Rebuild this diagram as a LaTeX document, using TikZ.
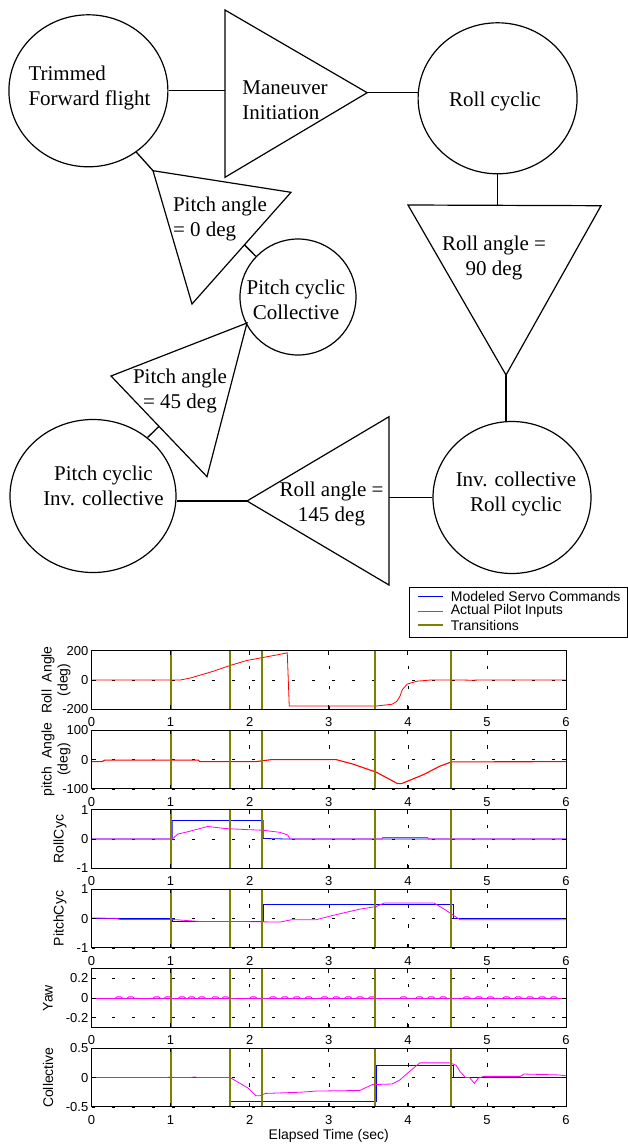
\documentclass[tikz,border=0pt]{standalone}
\usepackage{fontspec}
\setmainfont{Liberation Serif}
\newfontfamily\plotfont{Liberation Sans}
\usetikzlibrary{shapes.geometric,calc}
\definecolor{servo}{RGB}{0,0,255}
\definecolor{pilot}{RGB}{255,0,255}
\definecolor{resp}{RGB}{255,0,0}
\definecolor{trancol}{RGB}{128,128,0}
\tikzset{
  state/.style={draw, ellipse, line width=1.2pt, inner sep=0pt},
  txt/.style={font=\fontsize{21}{25}\selectfont, inner sep=0pt},
  tri/.style={draw, line width=1.2pt, line join=miter},
  link/.style={line width=1.3pt},
  panel/.style 2 args={shift={(91.5,#1+29.35)}, x=79.1pt, y={29.35pt/#2}},
  gridline/.style={dash pattern=on 3.5pt off 16.5pt, line width=0.6pt},
  trans/.style={draw=trancol, line width=2pt},
  frame/.style={line width=1pt},
  tick/.style={font=\plotfont\fontsize{13}{15}\selectfont, inner sep=0pt},
  axlabel/.style={font=\plotfont\fontsize{14}{16}\selectfont, inner sep=0pt},
  curve/.style={line width=0.8pt}
}
\begin{document}
\begin{tikzpicture}[x=1pt,y=-1pt]
\useasboundingbox (0,0) rectangle (628,1144);

\node[state, minimum width=159pt, minimum height=152pt] (trim) at (88.4,90.8) {};
\node[txt, align=left] (trimtxt) at (89.5,87.7) {Trimmed\\Forward flight};
\node[state, minimum width=159pt, minimum height=151pt] (roll) at (497.6,98.3) {};
\node[txt] (rolltxt) at (495,101.3) {Roll cyclic};
\node[state, minimum width=158pt, minimum height=152pt] (invc) at (512,497.5) {};
\node[txt, align=center] (invctxt) at (516,494.3) {Inv. collective\\Roll cyclic};
\node[state, minimum width=166pt, minimum height=153pt] (pinv) at (93,496) {};
\node[txt, align=center] (pinvtxt) at (103.5,486) {Pitch cyclic\\Inv. collective};
\node[state, minimum width=116pt, minimum height=116pt] (pcol) at (298,297) {};
\node[txt, align=center] (pcoltxt) at (296,299.7) {Pitch cyclic\\Collective};

\coordinate (b1) at (225,10);
\coordinate (b2) at (225,177.3);
\coordinate (b3) at (367.2,92.7);
\draw[tri] (b1) -- (b2) -- (b3) -- cycle;
\node[txt, align=left] (mantxt) at (285,100.2) {Maneuver\\Initiation};

\coordinate (d1) at (408,205);
\coordinate (d2) at (601,205.7);
\coordinate (d3) at (506,375);
\draw[tri] (d1) -- (d2) -- (d3) -- cycle;
\node[txt, align=center] (dtxt) at (494,257.6) {Roll angle =\\90 deg};

\coordinate (f1) at (389,416.7);
\coordinate (f2) at (389,585);
\coordinate (f3) at (247,501);
\draw[tri] (f1) -- (f2) -- (f3) -- cycle;
\node[txt, align=center] (ftxt) at (331.5,504) {Roll angle =\\145 deg};

\coordinate (h1) at (111,376);
\coordinate (h2) at (247,323);
\coordinate (h3) at (207,476.7);
\draw[tri] (h1) -- (h2) -- (h3) -- cycle;
\node[txt, align=center] (htxt) at (180,391.3) {Pitch angle\\= 45 deg};

\coordinate (j1) at (153,170.7);
\coordinate (j2) at (291,192.3);
\coordinate (j3) at (192,304);
\draw[tri] (j1) -- (j2) -- (j3) -- cycle;
\node[txt, align=left] (jtxt) at (220,219) {Pitch angle\\= 0 deg};

\coordinate (h13) at ($(h1)!0.5!(h3)$);
\coordinate (j23) at ($(j2)!0.47!(j3)$);
\draw[link] (trim.east) -- (trim.east -| b1);
\draw[link] (b3) -- (b3 -| roll.west);
\draw[link] (roll.south) -- (roll.south |- d1);
\draw[link] (d3) -- (d3 |- invc.north);
\draw[link] (invc.west) -- (invc.west -| f1);
\draw[link] (f3) -- (f3 -| pinv.east);
\draw[link] (pinv.47) -- (h13);
\draw[link] (trim.308) -- (j1);
\draw[link] (j23) -- (pcol.136);

\draw[frame] (409,587) rectangle (627,637);
\draw[servo, curve] (417.7,596) -- (442.7,596);
\draw[pilot, curve] (417.7,611) -- (442.7,611);
\draw[trans] (417.7,625.3) -- (442.7,625.3);
\node[axlabel, anchor=west] (leg1) at (450.7,596) {Modeled Servo Commands};
\node[axlabel, anchor=west] (leg2) at (450.7,611) {Actual Pilot Inputs};
\node[axlabel, anchor=west] (leg3) at (450.7,625.3) {Transitions};

\foreach \ty/\a/\tk in {650.7/200/200, 730.2/100/100, 809.7/1/1, 889.2/1/1, 968.7/0.3/0.2, 1048.2/0.5/0.5}
{
\begin{scope}[panel={\ty}{\a}]
\foreach \x in {1,...,5} \draw[gridline] (\x,-\a) -- (\x,\a);
\foreach \y in {-\tk,0,\tk} \draw[gridline] (0,\y) -- (6,\y);
\end{scope}
}

\begin{scope}[panel={650.7}{200}]
\draw[resp, curve] (0,0) -- (1.12,0) -- (1.25,14) -- (1.54,60) -- (1.75,99) -- (1.96,133) -- (2.15,152) -- (2.38,175) -- (2.475,186) -- (2.5,-177) -- (3.6,-177) -- (3.8,-165) -- (3.86,-145) -- (3.9,-110) -- (3.93,-65) -- (3.99,-28) -- (4.11,-8) -- (4.28,0) -- (4.6,1) -- (4.8,-1) -- (5.0,1) -- (6,0);
\end{scope}

\begin{scope}[panel={730.2}{100}]
\draw[resp, curve, line width=1.1pt] (0,-7) -- (0.13,-7) -- (0.17,-2) -- (1.35,-2) -- (1.37,-7) -- (2.08,-7) -- (2.28,0) -- (3.09,0) -- (3.3,-15) -- (3.6,-43) -- (3.87,-82) -- (3.92,-82) -- (4.2,-51) -- (4.4,-23) -- (4.55,-8) -- (6,-7);
\end{scope}

\begin{scope}[panel={809.7}{1}]
\draw[servo, curve] (0,0) -- (1.02,0) -- (1.02,0.63) -- (2.17,0.63) -- (2.17,0.02) -- (2.5,0) -- (6,0);
\draw[pilot, curve] (0,0) -- (1.02,0) -- (1.09,0.17) -- (1.22,0.25) -- (1.47,0.43) -- (1.68,0.36) -- (1.98,0.32) -- (2.17,0.3) -- (2.38,0.23) -- (2.48,0.14) -- (2.51,0) -- (3.67,0) -- (3.68,0.05) -- (4.25,0.05) -- (4.26,0) -- (6,0);
\end{scope}

\begin{scope}[panel={889.2}{1}]
\draw[servo, curve] (0,0) -- (1.02,0) -- (1.02,-0.08) -- (2.17,-0.08) -- (2.17,0.47) -- (4.58,0.47) -- (4.58,-0.01) -- (6,-0.01);
\draw[pilot, curve] (0,0.02) -- (0.3,0.01) -- (0.36,-0.03) -- (1.02,-0.03) -- (1.37,-0.1) -- (1.88,-0.1) -- (2.38,-0.12) -- (2.53,-0.04) -- (2.84,-0.04) -- (3.04,0.1) -- (3.39,0.32) -- (3.6,0.41) -- (3.7,0.53) -- (4.33,0.53) -- (4.46,0.32) -- (4.56,0.14) -- (4.66,-0.04) -- (6,-0.04);
\end{scope}

\begin{scope}[panel={968.7}{0.3}]
\draw[servo, curve] (0,0) -- (6,0);
\draw[pilot, curve] (0,0) -- (6,0);
\foreach \t in {0.3,0.45,0.78,0.92,1.1,1.22,1.35,1.52,1.65,2.0,2.25,2.4,2.55,2.7,2.9,3.05,3.2,3.35,3.5,3.9,4.1,4.25,4.4,4.7,4.85,5.0,5.2,5.35,5.5,5.65,5.8}
  \draw[pilot, curve] (\t,0) -- (\t+0.02,0.012) -- (\t+0.07,0.012) -- (\t+0.09,0);
\end{scope}

\begin{scope}[panel={1048.2}{0.5}]
\draw[servo, curve] (0,0) -- (1.75,0) -- (1.75,-0.4) -- (3.6,-0.4) -- (3.6,0.2) -- (4.57,0.2) -- (4.57,0) -- (6,0);
\draw[pilot, curve] (0,0) -- (0.95,0) -- (1.0,0.01) -- (1.05,0) -- (1.25,0) -- (1.3,0.01) -- (1.35,0) -- (1.75,0) -- (1.88,-0.1) -- (1.98,-0.18) -- (2.08,-0.31) -- (2.13,-0.31) -- (2.2,-0.27) -- (2.64,-0.25) -- (2.84,-0.23) -- (3.39,-0.22) -- (3.55,-0.12) -- (3.8,-0.11) -- (3.9,-0.04) -- (4.0,0.08) -- (4.15,0.25) -- (4.53,0.25) -- (4.61,0.21) -- (4.66,0.1) -- (4.73,0) -- (4.78,0) -- (4.84,-0.1) -- (4.89,-0.01) -- (4.96,0.02) -- (5.42,0.02) -- (5.47,0.06) -- (5.9,0.045) -- (6,0.03);
\end{scope}

\foreach \ty/\a/\tk/\lo/\hi/\lx/\lab [count=\n] in {650.7/200/200/-200/200/56/{Roll\ \ Angle\\(deg)}, 730.2/100/100/-100/100/56/{pitch\ \ Angle\\(deg)}, 809.7/1/1/-1/1/60/RollCyc, 889.2/1/1/-1/1/60/PitchCyc, 968.7/0.3/0.2/-0.2/0.2/48/Yaw, 1048.2/0.5/0.5/-0.5/0.5/48/Collective}
{
\begin{scope}[panel={\ty}{\a}]
\foreach \t in {1.01,1.75,2.15,3.59,4.55} \draw[trans] (\t,-\a) -- (\t,\a);
\draw[frame] (0,-\a) rectangle (6,\a);
\foreach \x in {0,...,6} {
  \draw[frame] (\x,-\a) -- ++(0pt,4pt) (\x,\a) -- ++(0pt,-4pt);
  \node[tick, anchor=base] (xt\n-\x) at ([yshift=-17.5pt]\x,-\a) {\x};
}
\foreach \y/\s [count=\k] in {-\tk/\lo,0/0,\tk/\hi} {
  \draw[frame] (0,\y) -- ++(4pt,0pt) (6,\y) -- ++(-4pt,0pt);
  \node[tick, anchor=east] (yt\n-\k) at ([xshift=-3pt]0,\y) {\s};
}
\end{scope}
\node[axlabel, rotate=90, align=center] (ylab\n) at (\lx,\ty+29.35) {\lab};
}
\node[axlabel] (xlab) at (328.7,1135.7) {Elapsed Time (sec)};
\end{tikzpicture}
\end{document}
